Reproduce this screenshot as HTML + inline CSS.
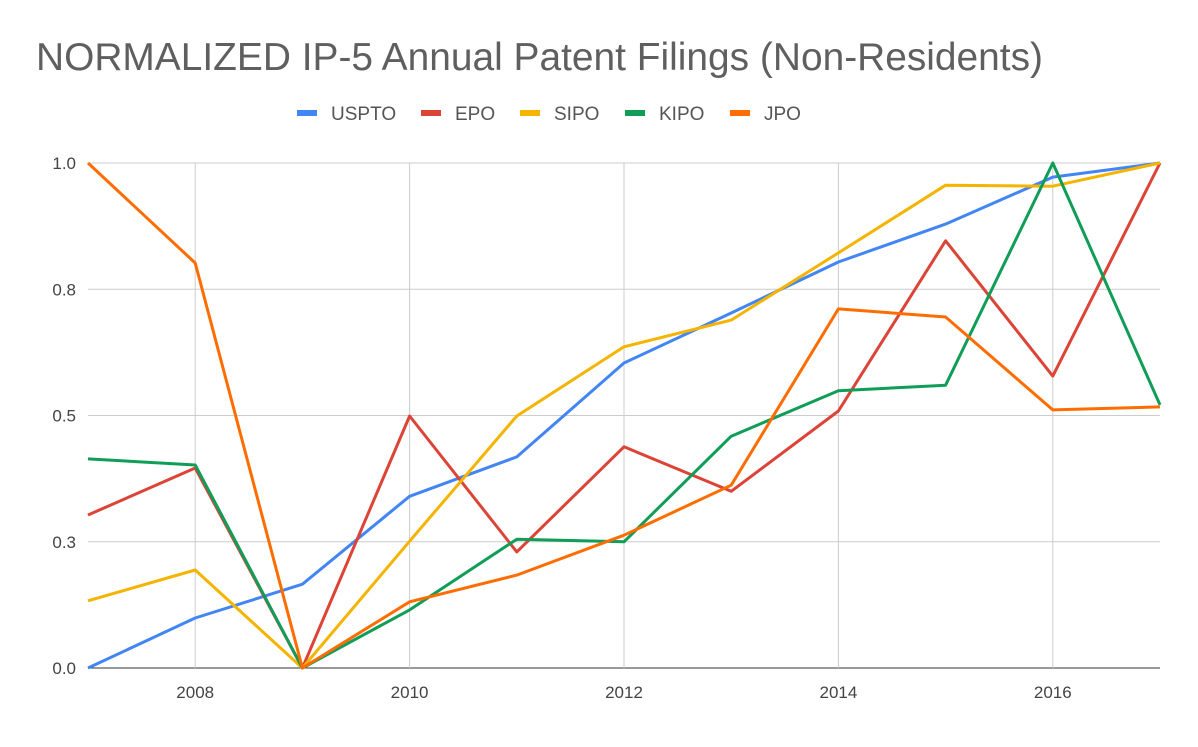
<!DOCTYPE html>
<html><head><meta charset="utf-8">
<style>
html,body{margin:0;padding:0;background:#fff;}
body{width:1198px;height:742px;overflow:hidden;font-family:"Liberation Sans",Arial,sans-serif;}
</style></head>
<body>
<svg id="chart" width="1198" height="742" xmlns="http://www.w3.org/2000/svg">
<text x="36" y="70" font-size="39" fill="#5f5f5f" textLength="1007" lengthAdjust="spacingAndGlyphs">NORMALIZED IP-5 Annual Patent Filings (Non-Residents)</text>
<g id="grid"></g>
<g id="legend"></g>
<g id="series"></g>
</svg>
<script>
const years = [2007,2008,2009,2010,2011,2012,2013,2014,2015,2016,2017];
const xTickYears = [2008,2010,2012,2014,2016];
const yTicks = [0,0.25,0.5,0.75,1.0];
const yTickLabels = ["0.0","0.3","0.5","0.8","1.0"];
const seriesNames = ["USPTO","EPO","SIPO","KIPO","JPO"];
const seriesColors = ["#4285f4","#db4437","#f4b400","#0f9d58","#ff6d00"];
const uspto = [0,0.099,0.166,0.34,0.418,0.604,0.703,0.804,0.879,0.972,1];
const epo = [0.303,0.396,0,0.499,0.23,0.438,0.35,0.509,0.846,0.578,1];
const sipo = [0.133,0.194,0,0.251,0.499,0.636,0.689,0.822,0.956,0.954,1];
const kipo = [0.414,0.402,0,0.115,0.255,0.25,0.459,0.549,0.56,1,0.521];
const jpo = [1,0.802,0,0.131,0.184,0.263,0.362,0.711,0.695,0.511,0.517];
const seriesData = [uspto,epo,sipo,kipo,jpo];

const NS="http://www.w3.org/2000/svg";
const x0=88,x1=1160,y0=668,y1=163;
function xs(v){return x0+(v-years[0])/(years[years.length-1]-years[0])*(x1-x0);}
function ys(v){return y0-v*(y0-y1);}
function mk(tag,attrs,parent){const e=document.createElementNS(NS,tag);for(const k in attrs)e.setAttribute(k,attrs[k]);parent.appendChild(e);return e;}

const grid=document.getElementById('grid');
yTicks.forEach((t,i)=>{
  const l=mk('line',{x1:x0,x2:x1,y1:ys(t),y2:ys(t),stroke:i===0?'#333':'#ccc','stroke-width':1},grid);
  
  
  const tx=mk('text',{x:x0-12,y:ys(t)+6,'text-anchor':'end','font-size':17,fill:'#444'},grid);
  tx.textContent=yTickLabels[i];
  
  
});
xTickYears.forEach(yr=>{
  const l=mk('line',{x1:xs(yr),x2:xs(yr),y1:y1,y2:y0,stroke:'#ccc','stroke-width':1},grid);
  
  
  const tx=mk('text',{x:xs(yr),y:698,'text-anchor':'middle','font-size':17,fill:'#444'},grid);
  tx.textContent=yr;
  
  
});

const legend=document.getElementById('legend');
const lx=[297,421,520,625,730];
seriesNames.forEach((n,i)=>{
  const g=mk('g',{},legend);
  
  
  mk('rect',{x:lx[i],y:110,width:20,height:6,fill:seriesColors[i]},g);
  const t=mk('text',{x:lx[i]+34,y:120,'font-size':19,fill:'#555'},g);
  t.textContent=n;
});

const sg=document.getElementById('series');
seriesData.forEach((d,i)=>{
  const pts=d.map((v,j)=>xs(years[j]).toFixed(1)+','+ys(v).toFixed(1)).join(' ');
  const p=mk('polyline',{points:pts,fill:'none',stroke:seriesColors[i],'stroke-width':3,'stroke-linejoin':'round'},sg);
  
  
});
</script>
</body></html>
